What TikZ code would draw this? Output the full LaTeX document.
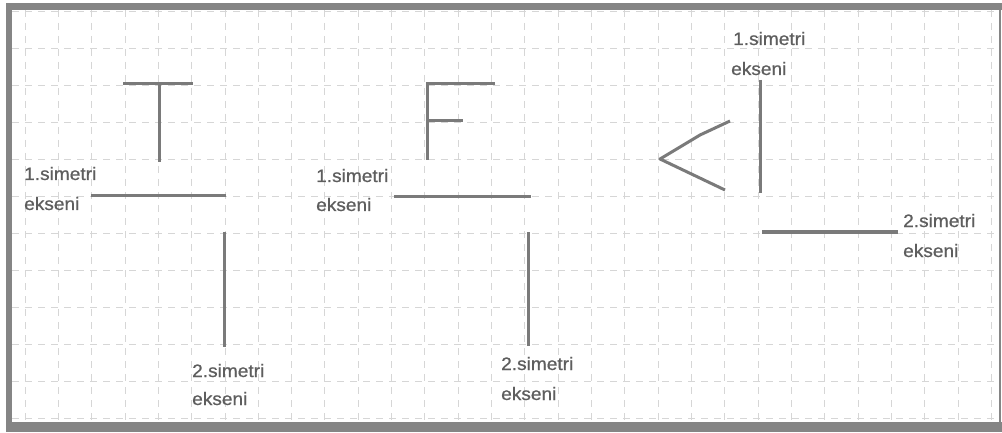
\documentclass[tikz,border=0pt]{standalone}
\usepackage{fontspec}
\newfontfamily\lblfont[FakeStretch=1.06,FakeBold=0.8]{Liberation Sans}
\definecolor{gridc}{HTML}{D6D6D6}
\definecolor{inkc}{HTML}{7A7A7A}
\definecolor{framec}{HTML}{858585}
\definecolor{txtc}{HTML}{5E5E5E}
\tikzset{
  gridline/.style={draw=gridc, line width=1pt, dash pattern=on 7pt off 6pt},
  ink/.style={draw=inkc, line width=3pt},
  thickink/.style={draw=inkc, line width=4pt},
  lbl/.style={anchor=base west, inner sep=0pt, text=txtc,
    font=\lblfont\fontsize{18}{18}\selectfont},
}
\begin{document}
\begin{tikzpicture}[x=1pt,y=-1pt]
\useasboundingbox (0,0) rectangle (1002,433);
\fill[white] (0,0) rectangle (1002,433);
% grid
\foreach \i in {0,...,29} \draw[gridline] ({25+33.333*\i},10) -- ({25+33.333*\i},422);
\foreach \j in {0,...,11} \draw[gridline] (12,{11.3+37*\j}) -- (999,{11.3+37*\j});
% frame
\fill[framec] (6,3) rectangle (1002,10);
\fill[framec] (6,3) rectangle (12,432);
\fill[framec] (6,422) rectangle (1002,432);
\fill[framec] (999,3) rectangle (1001,432);
% letter T
\draw[ink] (123,84) -- (193,84);
\draw[ink] (159,84) -- (159,162);
\draw[ink] (91,196) -- (226,196);
\draw[ink] (224,232) -- (224,347);
\node[lbl] (t1a) at (24,180) {1.simetri};
\node[lbl] (t1b) at (24,210) {ekseni};
\node[lbl] (t2a) at (192,377) {2.simetri};
\node[lbl] (t2b) at (192,405) {ekseni};
% letter F
\draw[ink] (495,84) -- (427,84) -- (427,160);
\draw[ink] (427,121) -- (463,121);
\draw[ink] (394,197) -- (531,197);
\draw[ink] (528,232) -- (528,346);
\node[lbl] (f1a) at (316,182) {1.simetri};
\node[lbl] (f1b) at (316,211) {ekseni};
\node[lbl] (f2a) at (501,370) {2.simetri};
\node[lbl] (f2b) at (501,400) {ekseni};
% letter <
\draw[ink, line join=round] (730,121) -- (700,135) -- (660,159) -- (725,190);
\draw[ink] (760,80) -- (760,193);
\draw[thickink] (762,232) -- (898,232);
\node[lbl] (a1a) at (733,45) {1.simetri};
\node[lbl] (a1b) at (731,75) {ekseni};
\node[lbl] (a2a) at (903,227) {2.simetri};
\node[lbl] (a2b) at (903,257) {ekseni};
\end{tikzpicture}
\end{document}
